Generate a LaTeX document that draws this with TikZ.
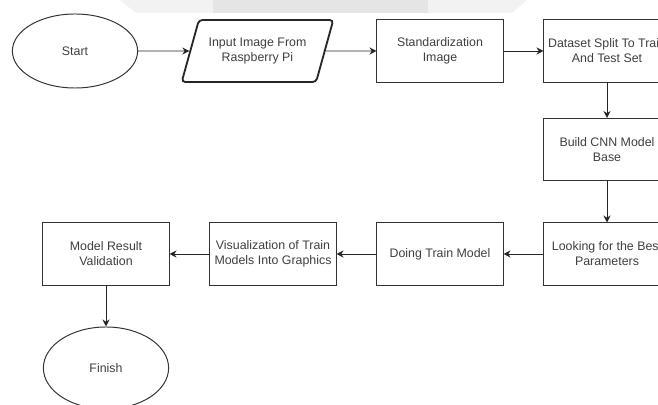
\documentclass[tikz,border=0pt]{standalone}
\usepackage{fontspec}
\setmainfont{Liberation Sans}
\usepackage{tikz}
\usetikzlibrary{positioning,arrows,arrows.meta,shapes}

\definecolor{lineclr}{HTML}{333333}
\definecolor{textclr}{HTML}{3F3F3F}

\begin{document}
\begin{tikzpicture}[x=0.025cm,y=-0.025cm,
    every node/.style={font=\fontsize{8.8}{10.7}\selectfont, text=textclr, align=center},
    process/.style={draw=lineclr, line width=0.7pt, minimum width=3.15cm, minimum height=1.55cm, inner sep=1pt},
    terminal/.style={draw=lineclr, line width=0.7pt, ellipse, minimum width=3.13cm, minimum height=1.85cm},
    io/.style={draw=black!85, line width=1.3pt, trapezium, trapezium left angle=63, trapezium right angle=117,
        trapezium stretches=true, minimum width=3.8cm, minimum height=1.55cm, rounded corners=2.5pt, inner sep=1pt},
    flow/.style={draw=black!85, line width=0.7pt, -{Stealth[length=5pt,width=5pt]}}]
            \useasboundingbox (0,0) rectangle (658,405);
            \fill[white] (0,0) rectangle (658,405);
            \clip (0,0) rectangle (658,405);
            % faint watermark at the top edge
            \fill[black!5] (120,0) -- (527,0) -- (512,13) -- (136,13) -- cycle;
            \fill[black!10] (213,0) rectangle (428,13);

            % top row
            \node[terminal] (start) at (75,51) {Start};
            \node[io] (input) at (257.5,51) {Input Image From\\Raspberry Pi};
            \node[process] (stdimg) at (440,51) {Standardization\\Image};
            \node[process] (split) at (607,51) {Dataset Split To Train\\And Test Set};

            % right column
            \node[process] (cnn) at (607,149.5) {Build CNN Model\\Base};
            \node[process] (search) at (607,254) {Looking for the Best\\Parameters};

            % bottom row
            \node[process] (train) at (440,254) {Doing Train Model};
            \node[process] (visual) at (273,254) {Visualization of Train\\Models Into Graphics};
            \node[process] (validate) at (106,254) {Model Result\\Validation};
            \node[terminal, minimum height=2.05cm] (finish) at (106,368) {Finish};

            \draw[flow] (start) -- (input);
            \draw[flow] (input) -- (stdimg);
            \draw[flow] (stdimg) -- (split);
            \draw[flow] (split) -- (cnn);
            \draw[flow] (cnn) -- (search);
            \draw[flow] (search) -- (train);
            \draw[flow] (train) -- (visual);
            \draw[flow] (visual) -- (validate);
            \draw[flow] (validate) -- (finish);
        \end{tikzpicture}
\end{document}
